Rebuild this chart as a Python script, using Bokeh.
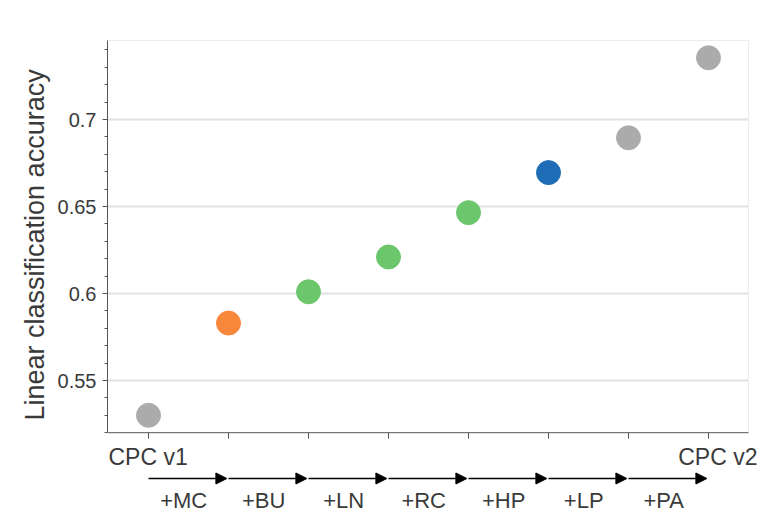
from bokeh.plotting import figure
from bokeh.models import Range1d, SingleIntervalTicker, NumeralTickFormatter, ColumnDataSource, Arrow, NormalHead, Title
from bokeh.core.properties import value
from bokeh.embed import file_html
from bokeh.resources import INLINE

# ---- data ----
steps = ["CPC v1", "+MC", "+BU", "+LN", "+RC", "+HP", "+LP", "+PA"]
accuracy = [0.530, 0.583, 0.601, 0.621, 0.6465, 0.6695, 0.6895, 0.7355]
colors = ["#ababab", "#f8873b", "#6cc66c", "#6cc66c", "#6cc66c", "#1f6db6", "#ababab", "#ababab"]
step_labels = ["+MC", "+BU", "+LN", "+RC", "+HP", "+LP", "+PA"]
end_labels = ["CPC v1", "CPC v2"]
y_ticks = [0.55, 0.6, 0.65, 0.7]
y_title = "Linear classification accuracy"

FONT = "Liberation Sans"
TXT = "#3a3a3a"
xpos = list(range(len(steps)))

y_lo, y_hi = 0.52, 0.7455
x_lo, x_hi = -0.5125, 7.5

p = figure(width=762, height=515, output_backend="svg", toolbar_location=None,
           x_range=Range1d(x_lo, 7.675), y_range=Range1d(0.4724, 0.7466),
           x_axis_location=None, min_border_left=107, min_border_top=38,
           min_border_bottom=0, min_border_right=0)
p.outline_line_color = None
p.xgrid.visible = False
p.ygrid.visible = False

# y axis
ax = p.yaxis[0]
ax.ticker = SingleIntervalTicker(interval=0.05, num_minor_ticks=5)
ax.formatter = NumeralTickFormatter(format="0.[00]")
ax.bounds = (y_lo, y_hi)
ax.major_label_text_font = FONT
ax.major_label_text_font_size = "20px"
ax.major_label_text_color = TXT
ax.major_label_standoff = 6
ax.axis_line_color = "#555555"
ax.major_tick_line_color = "#555555"
ax.minor_tick_line_color = "#555555"
ax.major_tick_out = 5
ax.major_tick_in = 0
ax.minor_tick_out = 3
ax.minor_tick_in = 0

px = 0.05 / 87.0

# y axis title, placed along the bounded part of the axis
p.add_layout(Title(text=y_title, align="left", offset=95, text_font=FONT,
                   text_font_size="27px", text_font_style="normal", text_color=TXT,
                   standoff=10), "left")

# grid lines
p.segment(x0=[x_lo] * len(y_ticks), x1=[x_hi] * len(y_ticks), y0=y_ticks, y1=y_ticks,
          line_color="#e2e2e2", line_width=2)
# frame top / right
p.segment(x0=[x_lo, x_hi], x1=[x_hi, x_hi], y0=[y_hi, y_lo], y1=[y_hi, y_hi],
          line_color="#ececec", line_width=1)
# x axis line and ticks
p.segment(x0=[x_lo], x1=[x_hi], y0=[y_lo], y1=[y_lo], line_color="#555555", line_width=1)
p.segment(x0=xpos, x1=xpos, y0=[y_lo] * len(xpos), y1=[y_lo - 6 * px] * len(xpos),
          line_color="#555555", line_width=1)

# points
src = ColumnDataSource(dict(x=xpos, y=accuracy, c=colors))
p.scatter("x", "y", source=src, size=24, fill_color="c", line_color="c")

# end labels
ey = 0.7 - (457 - 119) * px
p.text(x=[-0.5], y=[ey], text=[end_labels[0]], text_font=value(FONT), text_font_size=value("23px"),
       text_align="left", text_baseline="middle", text_color=TXT)
p.text(x=[7.6125], y=[ey], text=[end_labels[1]], text_font=value(FONT), text_font_size=value("23px"),
       text_align="right", text_baseline="middle", text_color=TXT)

# arrows
ay = 0.7 - (478 - 119) * px
asrc = ColumnDataSource(dict(x0=xpos[:-1], x1=[x + 0.98 for x in xpos[:-1]],
                             y0=[ay] * len(step_labels), y1=[ay] * len(step_labels)))
p.add_layout(Arrow(source=asrc, x_start="x0", y_start="y0", x_end="x1", y_end="y1",
                   line_color="black", line_width=1.6,
                   end=NormalHead(size=11, fill_color="black", line_color="black")))

# step labels
ly = 0.7 - (500 - 119) * px
p.text(x=[x + 0.44 for x in xpos[:-1]], y=[ly] * len(step_labels), text=step_labels,
       text_font=value(FONT), text_font_size=value("22px"), text_align="center",
       text_baseline="middle", text_color=TXT)

open("out.html", "w").write(file_html(p, INLINE))
